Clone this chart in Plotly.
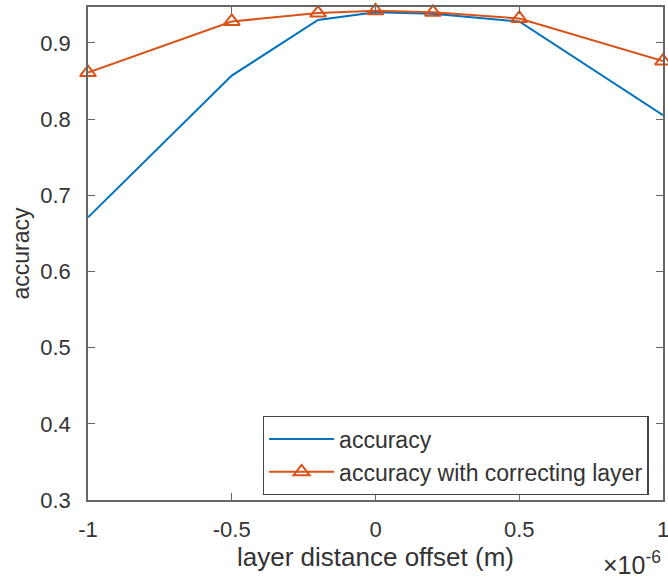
import plotly.graph_objects as go

# layer distance offset, in units of 1e-6 m
offset = [-1.0, -0.5, -0.2, 0.0, 0.2, 0.5, 1.0]
acc_plain = [0.671, 0.857, 0.930, 0.940, 0.938, 0.928, 0.805]
acc_corrected = [0.861, 0.928, 0.939, 0.942, 0.940, 0.932, 0.876]

x_ticks = [-1, -0.5, 0, 0.5, 1]
x_tick_labels = ["-1", "-0.5", "0", "0.5", "1"]
y_ticks = [0.3, 0.4, 0.5, 0.6, 0.7, 0.8, 0.9]
y_tick_labels = ["0.3", "0.4", "0.5", "0.6", "0.7", "0.8", "0.9"]

BLUE = "#0072BD"
ORANGE = "#D95319"
AXIS = "#666666"
TEXT = "#333333"
FONT = "Liberation Sans, Arial, sans-serif"

fig = go.Figure()
fig.add_trace(go.Scatter(
    x=offset, y=acc_plain, mode="lines", name="accuracy",
    line=dict(color=BLUE, width=2),
))
fig.add_trace(go.Scatter(
    x=offset, y=acc_corrected, mode="lines+markers",
    name="accuracy with correcting layer",
    line=dict(color=ORANGE, width=2),
    marker=dict(symbol="triangle-up-open", size=14, color=ORANGE,
                line=dict(color=ORANGE, width=2)),
    cliponaxis=False,
))

axis_common = dict(
    showgrid=False, zeroline=False, showline=True, linecolor=AXIS,
    linewidth=1.5, mirror="ticks", ticks="inside", ticklen=7,
    tickcolor=AXIS, tickwidth=1.3, automargin=False,
    ticklabeloverflow="allow",
    tickfont=dict(family=FONT, size=22, color=TEXT),
)

fig.update_layout(
    width=668, height=579,
    margin=dict(l=88, r=5, t=7, b=79),
    paper_bgcolor="white", plot_bgcolor="white",
    font=dict(family=FONT, color=TEXT),
    xaxis=dict(
        range=[-1, 1], tickvals=x_ticks, ticktext=x_tick_labels,
        ticklabelstandoff=9,
        title=dict(text="layer distance offset (m)",
                   font=dict(family=FONT, size=26, color=TEXT), standoff=0),
        **axis_common,
    ),
    yaxis=dict(
        range=[0.3, 0.947], tickvals=y_ticks, ticktext=y_tick_labels,
        ticklabelstandoff=11,
        title=dict(text="accuracy",
                   font=dict(family=FONT, size=23, color=TEXT), standoff=4),
        **axis_common,
    ),
    legend=dict(
        x=0.304, y=0.170, xanchor="left", yanchor="top",
        bgcolor="white", bordercolor="#444444", borderwidth=1.3,
        font=dict(family=FONT, size=23, color=TEXT),
        itemwidth=65, tracegroupgap=0,
    ),
    showlegend=True,
)

fig.add_annotation(
    xref="paper", yref="paper", x=1.0, y=-0.164,
    xanchor="right", yanchor="bottom", showarrow=False,
    text="×10<sup>-6</sup>", font=dict(family=FONT, size=25, color=TEXT),
)

fig.write_html("out.html")
